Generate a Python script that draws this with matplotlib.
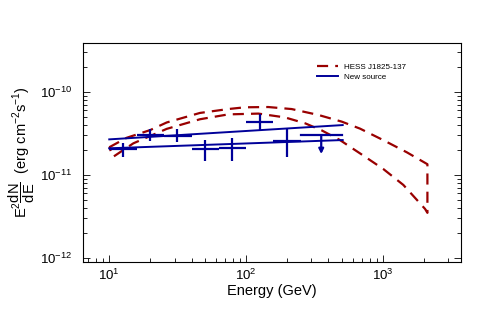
import numpy as np
import matplotlib
matplotlib.use("Agg")
import matplotlib.pyplot as plt
from matplotlib.ticker import LogLocator, NullFormatter

plt.rcParams['font.family'] = ['Liberation Sans', 'DejaVu Sans']
plt.rcParams['mathtext.fontset'] = 'custom'
plt.rcParams['mathtext.rm'] = 'Liberation Sans'
plt.rcParams['mathtext.it'] = 'Liberation Sans:italic'
plt.rcParams['mathtext.bf'] = 'Liberation Sans:bold'

# flux points of the new source (GeV, erg cm^-2 s^-1)
pts_E = [12.5, 20, 31.5, 50, 79, 126, 200]
pts_Elo = [10, 16, 25, 40, 63, 100, 158]
pts_Ehi = [16, 25, 40, 63, 100, 158, 251]
pts_F = [2.05e-11, 3.03e-11, 2.95e-11, 2.04e-11, 2.13e-11, 4.39e-11, 2.59e-11]
pts_Fhi = [2.41e-11, 3.55e-11, 3.55e-11, 2.64e-11, 2.77e-11, 5.43e-11, 3.55e-11]
pts_Flo = [1.66e-11, 2.59e-11, 2.52e-11, 1.49e-11, 1.48e-11, 3.42e-11, 1.63e-11]

# upper limit
ul_E = 354
ul_Elo = 251
ul_Ehi = 500
ul_F = 3.03e-11
ul_arrow_F = 1.79e-11

# new source butterfly (two lines)
fit_E = [10, 508]
fit_upper = [2.69e-11, 4.0e-11]
fit_lower = [2.10e-11, 2.64e-11]

# HESS J1825-137 butterfly
hess_up_E = [10, 13.4, 19.9, 26.3, 46, 74, 98, 145, 215, 337, 500, 681, 1007, 1493, 2113]
hess_up_F = [2.16e-11, 2.81e-11, 3.48e-11, 4.3e-11, 5.6e-11, 6.24e-11, 6.55e-11, 6.6e-11,
             6.24e-11, 5.3e-11, 4.4e-11, 3.62e-11, 2.63e-11, 1.88e-11, 1.35e-11]
hess_lo_E = [10.7, 15.0, 26.3, 46, 74, 123, 192, 270, 357, 485, 592, 681, 1007, 1409, 2032, 2113]
hess_lo_F = [1.66e-11, 2.41e-11, 3.6e-11, 4.7e-11, 5.38e-11, 5.5e-11, 4.95e-11, 4.2e-11,
             3.45e-11, 2.64e-11, 2.12e-11, 1.82e-11, 1.18e-11, 7.6e-12, 3.9e-12, 3.5e-12]

red = '#990000'
blue = '#000099'

fig = plt.figure(figsize=(4.9, 3.16), dpi=100)
ax = fig.add_axes([0.1694, 0.1709, 0.7714, 0.693])

poly_E = hess_up_E + hess_lo_E[::-1] + [hess_up_E[0]]
poly_F = hess_up_F + hess_lo_F[::-1] + [hess_up_F[0]]
ax.plot(poly_E, poly_F, color=red, lw=1.6, ls=(0, (5, 3.2)), label='HESS J1825-137')

ax.plot(fit_E, fit_upper, color=blue, lw=1.4, label='New source')
ax.plot(fit_E, fit_lower, color=blue, lw=1.4)

E = np.array(pts_E)
F = np.array(pts_F)
xerr = [E - np.array(pts_Elo), np.array(pts_Ehi) - E]
yerr = [F - np.array(pts_Flo), np.array(pts_Fhi) - F]
ax.errorbar(E, F, xerr=xerr, yerr=yerr, fmt='none', ecolor=blue, elinewidth=1.6, capsize=0)

ax.plot([ul_Elo, ul_Ehi], [ul_F, ul_F], color=blue, lw=1.6)
ax.annotate('', xy=(ul_E, ul_arrow_F), xytext=(ul_E, ul_F),
            arrowprops=dict(arrowstyle='-|>', color=blue, lw=1.6,
                            mutation_scale=7, shrinkA=0, shrinkB=0))

ax.set_xscale('log')
ax.set_yscale('log')
ax.set_xlim(6.43, 3718)
ax.set_ylim(8.95e-13, 3.9e-10)

ax.xaxis.set_major_locator(LogLocator(base=10, numticks=10))
ax.xaxis.set_minor_locator(LogLocator(base=10, subs=np.arange(2, 10), numticks=20))
ax.yaxis.set_major_locator(LogLocator(base=10, numticks=10))
ax.yaxis.set_minor_locator(LogLocator(base=10, subs=np.arange(2, 10), numticks=20))
ax.xaxis.set_minor_formatter(NullFormatter())
ax.yaxis.set_minor_formatter(NullFormatter())

ax.tick_params(which='both', direction='in', top=False, right=True, labelsize=9.5, width=0.6)
ax.tick_params(which='major', length=5)
ax.tick_params(which='minor', length=3, labelbottom=False, labelleft=False)
ax.tick_params(axis='y', pad=8)
ax.tick_params(axis='x', pad=4)
for sp in ax.spines.values():
    sp.set_linewidth(0.8)

ax.set_xlabel('Energy (GeV)', fontsize=10.5, labelpad=1)
ax.set_ylabel(r'$\mathrm{E^{2}\dfrac{dN}{dE}}$  (erg cm$^{-2}$s$^{-1}$)', fontsize=10.5, labelpad=2)

ax.legend(loc='upper left', bbox_to_anchor=(0.6, 0.94), frameon=False, fontsize=5.8,
          handlelength=2.6, handletextpad=0.8, labelspacing=0.25)

fig.savefig('out.png', dpi=100)
